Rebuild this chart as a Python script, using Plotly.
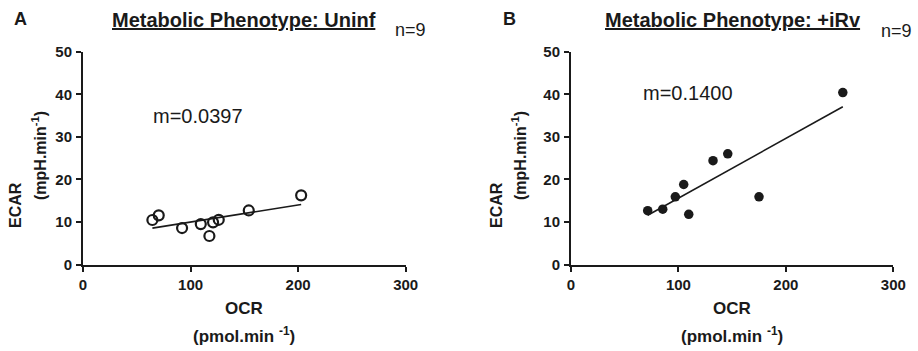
import numpy as np
import plotly.graph_objects as go

# ---- data ----
ocr_uninf = [64.5, 70.4, 92.1, 109.5, 117.5, 120.9, 126.2, 154.1, 202.8]
ecar_uninf = [10.45, 11.55, 8.57, 9.5, 6.7, 9.9, 10.5, 12.7, 16.25]
ocr_irv = [71.4, 85.4, 97.1, 104.9, 109.6, 132.2, 145.9, 175.0, 253.0]
ecar_irv = [12.64, 13.0, 15.9, 18.8, 11.8, 24.4, 26.0, 15.9, 40.4]
titles = ["Metabolic Phenotype: Uninf", "Metabolic Phenotype: +iRv"]
panel_labels = ["A", "B"]
slope_labels = ["m=0.0397", "m=0.1400"]
n_labels = ["n=9", "n=9"]
x_ticks = [0, 100, 200, 300]
y_ticks = [0, 10, 20, 30, 40, 50]

W, H = 918, 351
FONT = "Liberation Sans, Arial, sans-serif"
INK = "#1a1a1a"


def px(x):
    return x / W


def py(y):
    return 1 - y / H


fig = go.Figure()


def fit_line(xs, ys):
    m, b = np.polyfit(xs, ys, 1)
    xl = np.array([min(xs), max(xs)])
    return xl, m * xl + b


# Panel A
fig.add_trace(go.Scatter(x=ocr_uninf, y=ecar_uninf, mode="markers",
                         marker=dict(symbol="circle-open", size=10, color=INK,
                                     line=dict(width=2.2, color=INK)),
                         xaxis="x", yaxis="y", showlegend=False))
xl, yl = fit_line(ocr_uninf, ecar_uninf)
fig.add_trace(go.Scatter(x=xl, y=yl, mode="lines", line=dict(color=INK, width=1.6),
                         xaxis="x", yaxis="y", showlegend=False))

# Panel B
fig.add_trace(go.Scatter(x=ocr_irv, y=ecar_irv, mode="markers",
                         marker=dict(symbol="circle", size=9.5, color=INK),
                         xaxis="x2", yaxis="y2", showlegend=False))
xl, yl = fit_line(ocr_irv, ecar_irv)
fig.add_trace(go.Scatter(x=xl, y=yl, mode="lines", line=dict(color=INK, width=1.6),
                         xaxis="x2", yaxis="y2", showlegend=False))

ydom = [py(264.5), py(51.7)]
common = dict(showgrid=False, zeroline=False, showline=True, linewidth=2,
              linecolor=INK, ticks="outside", ticklen=5, tickwidth=2,
              tickcolor=INK, automargin=False,
              tickfont=dict(family=FONT, size=15, color=INK, weight="bold"))

fig.update_layout(
    template="none",
    width=W, height=H, margin=dict(l=0, r=0, t=0, b=0, pad=0),
    paper_bgcolor="white", plot_bgcolor="white",
    xaxis=dict(domain=[px(83), px(405.7)], range=[0, 300], tickvals=x_ticks,
               anchor="y", ticklabelstandoff=0, **common),
    yaxis=dict(domain=ydom, range=[0, 50], tickvals=y_ticks, anchor="x",
               ticklabelstandoff=1, **common),
    xaxis2=dict(domain=[px(571), px(893.3)], range=[0, 300], tickvals=x_ticks,
                anchor="y2", ticklabelstandoff=0, **common),
    yaxis2=dict(domain=ydom, range=[0, 50], tickvals=y_ticks, anchor="x2",
                ticklabelstandoff=1, **common),
)

ann = []


def add(text, x, y, size, bold=False, xref="paper", yref="paper", angle=0):
    ann.append(dict(text=("<b>%s</b>" % text) if bold else text, x=x, y=y,
                    xref=xref, yref=yref, xanchor="center", yanchor="middle",
                    showarrow=False, textangle=angle,
                    font=dict(family=FONT, size=size, color=INK)))


# titles, labels
add("<u>%s</u>" % titles[0], px(244), py(20), 20, bold=True)
add("<u>%s</u>" % titles[1], px(732.5), py(20), 20, bold=True)
add(panel_labels[0], px(20), py(19), 18, bold=True)
add(panel_labels[1], px(509.5), py(19), 18, bold=True)
add(n_labels[0], px(410), py(30), 18)
add(n_labels[1], px(896), py(31), 18)

# slope labels in data coordinates
add(slope_labels[0], 107, 35, 20, xref="x", yref="y")
add(slope_labels[1], 109, 40.4, 20, xref="x2", yref="y2")

# axis titles
for cx in (244.4, 732.2):
    add("OCR", px(cx), py(308), 17, bold=True)
    add("(pmol.min <sup>-1</sup>)", px(cx), py(335), 17, bold=True)
for ex, sx in ((15, 39), (496, 519)):
    add("ECAR", px(ex), py(205), 16, bold=True, angle=-90)
    add("(mpH.min<sup>-1</sup>)", px(sx), py(156), 16, bold=True, angle=-90)

fig.update_layout(annotations=ann)
fig.write_html("out.html")
